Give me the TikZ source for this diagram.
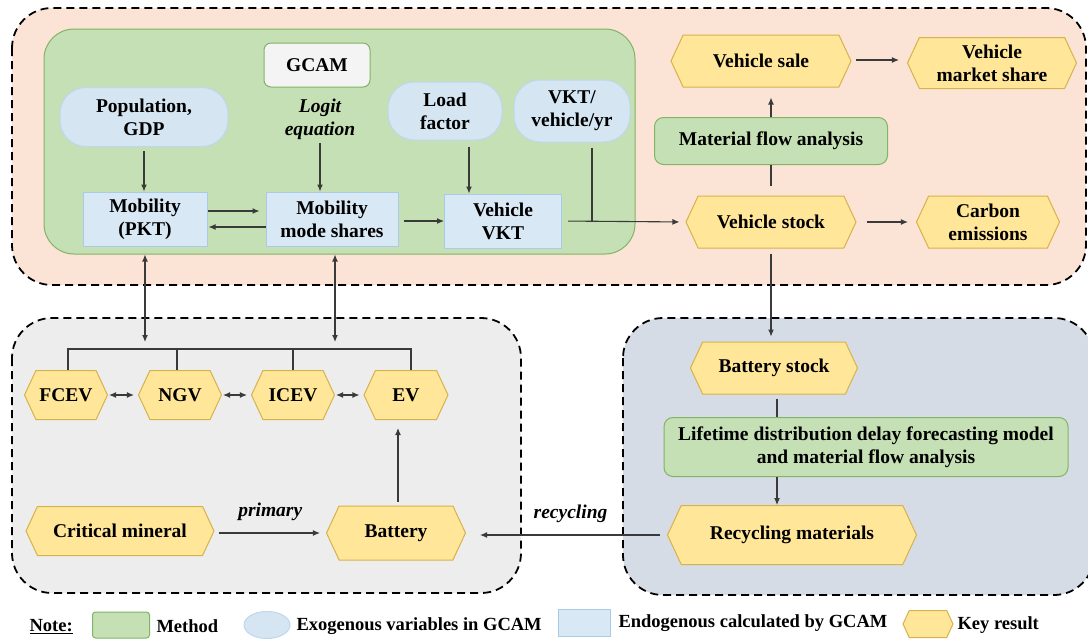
\documentclass[tikz,border=0pt]{standalone}
\usepackage{fontspec}
\setmainfont{Liberation Serif}
\usetikzlibrary{shapes.symbols,shapes.geometric,arrows.meta}

\definecolor{peach}{HTML}{FBE4D6}
\definecolor{graybg}{HTML}{EDEDED}
\definecolor{bluebg}{HTML}{D6DCE5}
\definecolor{methfill}{HTML}{C5E0B4}
\definecolor{methline}{HTML}{82B366}
\definecolor{exofill}{HTML}{D5E5F2}
\definecolor{exoline}{HTML}{BDD7EE}
\definecolor{endofill}{HTML}{D9E8F5}
\definecolor{endoline}{HTML}{A8CBE8}
\definecolor{keyfill}{HTML}{FFE699}
\definecolor{keyline}{HTML}{D6B24A}
\definecolor{gcamfill}{HTML}{F4F4F4}
\definecolor{conn}{HTML}{3A3A3A}

\begin{document}
\begin{tikzpicture}[%
      x=1pt, y=-1pt,
      font=\fontsize{19.5}{23}\selectfont\bfseries,
      region/.style={draw=black, line width=1.8pt, dash pattern=on 8pt off 5pt, rounded corners=40pt},
      meth/.style={draw=methline, fill=methfill, line width=1pt, rounded corners=9pt, align=center},
      exo/.style={draw=exoline, fill=exofill, line width=1pt, rounded corners=26pt, align=center},
      endo/.style={draw=endoline, fill=endofill, line width=1pt, align=center},
      key/.style={shape=signal, signal to=east and west, signal pointer angle=130,
        draw=keyline, fill=keyfill, line width=1pt, align=center, inner sep=2pt},
      arr/.style={draw=conn, line width=1.1pt, -{Latex[length=7pt,width=6pt]}},
      darr/.style={draw=conn, line width=1.1pt, {Latex[length=7pt,width=6pt]}-{Latex[length=7pt,width=6pt]}},
      ln/.style={draw=conn, line width=1.1pt},
      itlab/.style={font=\fontsize{19.5}{23}\selectfont\bfseries\itshape},
      legtxt/.style={anchor=west, font=\fontsize{18.5}{22}\selectfont\bfseries},
      ]
      \useasboundingbox (0,0) rectangle (1088,638);
      \clip (0,0) rectangle (1088,638);

      % regions
      \draw[region, fill=peach] (12,8) rectangle (1086,285);
      \draw[region, fill=graybg] (12,318) rectangle (521,593);
      \draw[region, fill=bluebg] (623,318) rectangle (1094,595);

      % GCAM model block
      \node[meth, rounded corners=30pt, minimum width=591, minimum height=225] (model) at (339.5,141.5) {};
      \node[draw=methline, fill=gcamfill, line width=1pt, rounded corners=7pt,
        minimum width=106, minimum height=44] (gcam) at (317,65) {GCAM};
      \node[exo, minimum width=168, minimum height=59] (pop) at (144,117) {Population,\\GDP};
      \node[align=center, itlab] (logit) at (320,119) {Logit\\equation};
      \node[exo, minimum width=114, minimum height=58] (load) at (445,111) {Load\\factor};
      \node[exo, minimum width=116, minimum height=62] (vkty) at (572,111) {VKT/\\vehicle/yr};
      \node[endo, minimum width=124, minimum height=54] (mob) at (145,219) {Mobility\\(PKT)};
      \node[endo, minimum width=132, minimum height=54] (share) at (332,219) {Mobility\\mode shares};
      \node[endo, minimum width=117, minimum height=54] (vvkt) at (503,221) {Vehicle\\VKT};

      % key results, top
      \node[key, minimum width=180, minimum height=52] (sale) at (761,61) {Vehicle sale};
      \node[key, minimum width=169, minimum height=51] (market) at (992,63) {Vehicle\\market share};
      \node[meth, minimum width=233, minimum height=47] (mfa) at (771,141) {Material flow analysis};
      \node[key, minimum width=170, minimum height=52] (stock) at (771,222) {Vehicle stock};
      \node[key, minimum width=143, minimum height=52] (carbon) at (988,222) {Carbon\\emissions};

      % vehicle types
      \node[key, minimum width=83, minimum height=49] (fcev) at (66,395) {FCEV};
      \node[key, minimum width=83, minimum height=49] (ngv) at (180,395) {NGV};
      \node[key, minimum width=83, minimum height=49] (icev) at (293,395) {ICEV};
      \node[key, minimum width=84, minimum height=49] (ev) at (406,395) {EV};
      \node[key, minimum width=188, minimum height=49] (crit) at (120,531) {Critical mineral};
      \node[key, minimum width=139, minimum height=54] (batt) at (396,533) {Battery};

      % battery side
      \node[key, minimum width=167, minimum height=52] (bstock) at (774,368) {Battery stock};
      \node[meth, minimum width=404, minimum height=59] (ldd) at (866,447) {Lifetime distribution delay forecasting model\\and material flow analysis};
      \node[key, minimum width=249, minimum height=59] (recyc) at (792,535) {Recycling materials};

      % connectors in the model block
      \draw[arr, shorten <=4pt] (pop.south) -- (pop.south |- mob.north);
      \draw[arr] (logit.south) -- (logit.south |- share.north);
      \draw[arr, shorten <=6pt] ([xshift=24pt]load.south) -- ([xshift=24pt]load.south |- vvkt.north);
      \draw[arr, shorten >=6pt] ([yshift=8pt]mob.east) -- ([yshift=8pt]mob.east -| share.west);
      \draw[arr, shorten >=1pt] ([yshift=-8pt]share.west) -- ([yshift=-8pt]share.west -| mob.east);
      \draw[arr, shorten <=5pt] (share.east |- vvkt.center) -- (vvkt.west);
      \draw[arr, shorten <=6pt, shorten >=6pt] (vvkt.east) -- (stock.west);
      \draw[ln, shorten <=5pt] ([xshift=20pt]vkty.south) -- ([xshift=20pt]vkty.south |- vvkt.east);

      % connectors of the results
      \draw[arr, shorten <=10pt, shorten >=8pt] (stock.east |- carbon.west) -- (carbon.west);
      \draw[arr, shorten <=4pt, shorten >=8pt] ([yshift=1pt]sale.east) -- ([yshift=1pt]sale.east -| market.west);
      \draw[ln, shorten >=10pt] (mfa.south) -- (stock.north);
      \draw[arr, shorten >=10pt] (mfa.north) -- (mfa.north |- sale.south);
      \draw[arr, shorten <=5pt, shorten >=5pt] (stock.south) -- (stock.south |- bstock.north);
      \draw[ln, shorten <=4pt] ([xshift=3pt]bstock.south) -- ([xshift=3pt]bstock.south |- ldd.north);
      \draw[arr] ([xshift=3pt]bstock.south |- ldd.south) -- ([xshift=3pt]bstock.south |- recyc.north);
      \draw[arr, shorten <=7pt, shorten >=14pt] (recyc.west) -- (recyc.west -| batt.east)
        node[pos=0.48, above=8pt, itlab] (reclab) {recycling};

      % connectors of the vehicle types
      \coordinate (bus) at (0,349);
      \draw[darr, shorten >=7pt] (mob.south |- model.south) -- (mob.south |- bus);
      \draw[darr, shorten >=7pt] ([xshift=3pt]share.south |- model.south) -- ([xshift=3pt]share.south |- bus);
      \draw[ln] ([xshift=2pt]fcev.north) |- ([xshift=5pt]ev.north |- bus) -- ([xshift=5pt]ev.north);
      \draw[ln] ([xshift=-3pt]ngv.north) -- ([xshift=-3pt]ngv.north |- bus);
      \draw[ln] (icev.north) -- (icev.north |- bus);
      \draw[darr, shorten <=1pt, shorten >=4pt] (fcev.east) -- (ngv.west);
      \draw[darr, shorten <=1pt, shorten >=4pt] (ngv.east) -- (icev.west);
      \draw[darr, shorten <=1pt, shorten >=4pt] (icev.east) -- (ev.west);
      \draw[arr, shorten <=4pt, shorten >=8pt] ([xshift=2pt]batt.north) -- ([xshift=2pt]batt.north |- ev.south);
      \draw[arr, shorten <=4pt, shorten >=6pt] (crit.east |- batt.west) -- (batt.west)
        node[midway, above=8pt, itlab] (primlab) {primary};

      % legend
      \node[legtxt] (note) at (26,627) {\underline{Note:}};
      \node[meth, rounded corners=3pt, minimum width=57, minimum height=26] (lmeth) at (121,625) {};
      \node[legtxt] (lmethtxt) at (153,626) {Method};
      \node[ellipse, draw=exoline, fill=exofill, line width=1pt, minimum width=46, minimum height=27] (lexo) at (267,625) {};
      \node[legtxt] (lexotxt) at (293,626) {Exogenous variables in GCAM};
      \node[endo, minimum width=52, minimum height=27] (lendo) at (584,623) {};
      \node[legtxt] (lendotxt) at (615,623) {Endogenous calculated by GCAM};
      \node[key, minimum width=50, minimum height=27] (lkey) at (928,624) {};
      \node[legtxt] (lkeytxt) at (954,625) {Key result};
\end{tikzpicture}
\end{document}
